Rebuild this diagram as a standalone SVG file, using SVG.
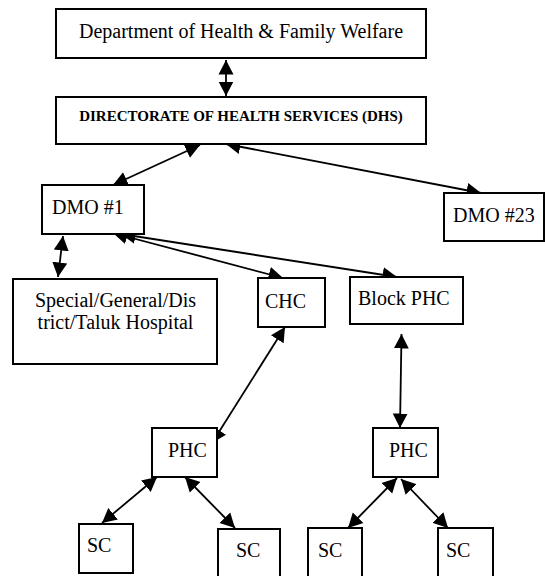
<svg xmlns="http://www.w3.org/2000/svg" width="545" height="576" viewBox="0 0 545 576">
  <style>
    .box { fill: #ffffff; stroke: #000000; stroke-width: 2; }
    .lbl { font-family: "Liberation Serif", "Times New Roman", serif; font-size: 20px; fill: #000000; }
    .head { font-family: "Liberation Serif", "Times New Roman", serif; font-size: 15px; font-weight: bold; fill: #000000; }
    .link { fill: none; stroke: #000000; stroke-width: 1.8; marker-start: url(#arrow); marker-end: url(#arrow); }
  </style>
  <defs>
    <marker id="arrow" viewBox="0 0 16 16" markerUnits="userSpaceOnUse" markerWidth="16" markerHeight="16" refX="14.5" refY="8" orient="auto-start-reverse">
      <path d="M0,0.5 L14.5,8 L0,15.5 z" fill="#000000"/>
    </marker>
  </defs>
  <rect width="545" height="576" fill="#ffffff"/>

  <g id="connectors">
    <line class="link" x1="226" y1="60" x2="226" y2="96"/>
    <line class="link" x1="200" y1="145" x2="113" y2="185"/>
    <line class="link" x1="226" y1="144" x2="481" y2="193"/>
    <line class="link" x1="63" y1="236" x2="58" y2="277"/>
    <line class="link" x1="113" y1="233" x2="283" y2="278"/>
    <line class="link" x1="121" y1="234" x2="397" y2="277"/>
    <line class="link" x1="285" y1="327" x2="212" y2="443"/>
    <line class="link" x1="401.5" y1="334" x2="400" y2="428"/>
    <line class="link" x1="157" y1="477" x2="102" y2="523"/>
    <line class="link" x1="185" y1="477" x2="235" y2="528"/>
    <line class="link" x1="397" y1="478" x2="348" y2="528"/>
    <line class="link" x1="401" y1="479" x2="448" y2="528"/>
  </g>

  <g id="dept">
    <rect class="box" x="56" y="9" width="370" height="49"/>
    <text class="lbl" x="241" y="38" text-anchor="middle">Department of Health &amp; Family Welfare</text>
  </g>
  <g id="dhs">
    <rect class="box" x="56" y="97" width="370" height="47"/>
    <text class="head" x="241" y="121" text-anchor="middle">DIRECTORATE OF HEALTH SERVICES (DHS)</text>
  </g>
  <g id="dmo1">
    <rect class="box" x="42" y="185" width="102" height="49"/>
    <text class="lbl" x="52" y="214">DMO #1</text>
  </g>
  <g id="dmo23">
    <rect class="box" x="444" y="193" width="100" height="48"/>
    <text class="lbl" x="453" y="222">DMO #23</text>
  </g>
  <g id="hospital">
    <rect class="box" x="13" y="279" width="204" height="85"/>
    <text class="lbl" x="115.5" y="307" text-anchor="middle">Special/General/Dis</text>
    <text class="lbl" x="115.5" y="329" text-anchor="middle">trict/Taluk Hospital</text>
  </g>
  <g id="chc">
    <rect class="box" x="258" y="278" width="67" height="49"/>
    <text class="lbl" x="265" y="308">CHC</text>
  </g>
  <g id="block-phc">
    <rect class="box" x="350" y="277" width="113" height="47"/>
    <text class="lbl" x="358" y="305">Block PHC</text>
  </g>
  <g id="phc-left">
    <rect class="box" x="152" y="428" width="65" height="49"/>
    <text class="lbl" x="168" y="457">PHC</text>
  </g>
  <g id="phc-right">
    <rect class="box" x="373" y="428" width="65" height="49"/>
    <text class="lbl" x="389" y="457">PHC</text>
  </g>
  <g id="sc1">
    <rect class="box" x="79" y="524" width="54" height="49"/>
    <text class="lbl" x="87" y="552">SC</text>
  </g>
  <g id="sc2">
    <rect class="box" x="218" y="529" width="62" height="52"/>
    <text class="lbl" x="236" y="557">SC</text>
  </g>
  <g id="sc3">
    <rect class="box" x="308" y="528" width="54" height="53"/>
    <text class="lbl" x="318" y="557">SC</text>
  </g>
  <g id="sc4">
    <rect class="box" x="438" y="528" width="55" height="53"/>
    <text class="lbl" x="446" y="557">SC</text>
  </g>
</svg>
